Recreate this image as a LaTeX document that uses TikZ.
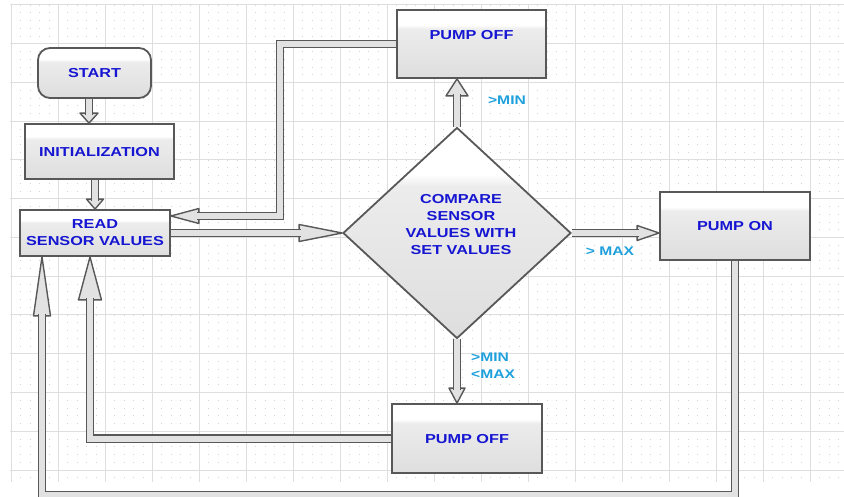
\documentclass[tikz,border=0pt]{standalone}
\usepackage{fontspec}
\setmainfont{Liberation Sans}
\newfontfamily\chartfont[FakeStretch=1.25]{Liberation Sans}
\usetikzlibrary{shapes.geometric, calc}

\definecolor{edgegray}{RGB}{88,88,88}
\definecolor{pipegray}{RGB}{226,226,226}
\definecolor{boxbot}{RGB}{222,222,222}
\definecolor{boxmid}{RGB}{236,236,236}
\definecolor{gridgray}{RGB}{222,222,222}
\definecolor{dotgray}{RGB}{212,212,212}
\definecolor{txtblue}{RGB}{22,22,210}
\definecolor{condblue}{RGB}{30,160,220}

% white band on top, light gray below
\pgfdeclareverticalshading{gloss}{100bp}{color(0bp)=(boxbot); color(25bp)=(boxbot);
  color(61bp)=(boxmid); color(64bp)=(white); color(75bp)=(white); color(100bp)=(white)}

\tikzset{
  pics/head/.style 2 args={code={
    \filldraw[draw=edgegray, fill=pipegray, line width=1.4pt, line join=round]
      (0,0) -- (-#1,-#2/2) -- (-#1,#2/2) -- cycle;}},
}

\begin{document}
\begin{tikzpicture}[x=1pt, y=-1pt,
    boxtext/.style={font=\chartfont\bfseries\fontsize{13}{17}\selectfont,
      text=txtblue, align=center, inner sep=0pt},
    box/.style={boxtext, draw=edgegray, line width=1.8pt, shading=gloss},
    oneline/.style={text height=9.3pt, text depth=#1},
    oneline/.default=0pt,
    cond/.style={font=\chartfont\bfseries\fontsize{12.5}{17}\selectfont,
      text=condblue, align=left, inner sep=0pt},
    pipe/.style={draw=edgegray, line width=1.4pt, double=pipegray, double distance=6pt},
    flow/.style={pipe, shorten >=#1},
  ]
  \useasboundingbox (0,0) rectangle (844,497);
  \clip (0,0) rectangle (844,497);

  % grid
  \foreach \j in {0,...,61}
    \draw[dotgray, line width=0.8pt, dash pattern=on 0.8pt off 8.6pt]
      (11,5+\j*7.75) -- (844,5+\j*7.75);
  \foreach \i in {0,...,17}
    \draw[gridgray, line width=1pt] (11+\i*47,5) -- (11+\i*47,482);
  \foreach \j in {0,...,12}
    \draw[gridgray, line width=1pt] (10,5+\j*38.75) -- (844,5+\j*38.75);

  % boxes
  \node[box, oneline, rounded corners=12pt, minimum width=113, minimum height=50]
    (start) at (94.5,73) {START};
  \node[box, oneline, minimum width=149, minimum height=55]
    (init) at (99.5,151.5) {INITIALIZATION};
  \node[box, minimum width=150, minimum height=46]
    (read) at (95,233) {READ\\SENSOR VALUES};
  \node[box, diamond, minimum width=228, minimum height=211] (cmp) at (457,233) {};
  \node[boxtext] (cmptxt) at (461,224.5) {COMPARE\\SENSOR\\VALUES WITH\\SET VALUES};
  \node[box, oneline=18pt, minimum width=149, minimum height=68]
    (pofftop) at (471.5,44) {PUMP OFF};
  \node[box, oneline, minimum width=150, minimum height=68]
    (pon) at (735,226) {PUMP ON};
  \node[box, oneline, minimum width=150, minimum height=69]
    (poffbot) at (467,438.5) {PUMP OFF};

  % start -> init -> read
  \coordinate (startdrop) at (89,0);
  \pic[rotate=-90] at (init.north -| startdrop) {head={10}{18}};
  \draw[flow=8] (start.south -| startdrop) -- (init.north -| startdrop);
  \pic[rotate=-90] at (read.north) {head={10}{17}};
  \draw[flow=8] (read.north |- init.south) -- (read.north);

  % pump off (top) back to read
  \coordinate (backtop) at (280,216);
  \pic[rotate=180] at (read.east |- backtop) {head={28}{15}};
  \draw[flow=26] (pofftop.west) -- (pofftop.west -| backtop) -- (backtop)
    -- (read.east |- backtop);

  % read -> compare
  \pic at (cmp.west) {head={43}{17}};
  \draw[flow=41] (read.east) -- (cmp.west);

  % compare -> pumps
  \pic[rotate=90] at (cmp.north |- pofftop.south) {head={17}{22}};
  \draw[flow=15] (cmp.north) -- (cmp.north |- pofftop.south);
  \pic at (cmp.east -| pon.west) {head={22}{15}};
  \draw[flow=20] (cmp.east) -- (cmp.east -| pon.west);
  \pic[rotate=-90] at (cmp.south |- poffbot.north) {head={15}{16}};
  \draw[flow=13] (cmp.south) -- (cmp.south |- poffbot.north);

  % pump off (bottom) back to read
  \coordinate (leftrise) at (90,0);
  \pic[rotate=90] at (read.south -| leftrise) {head={43}{23}};
  \draw[flow=41] (poffbot.west) -- (poffbot.west -| leftrise) -- (read.south -| leftrise);

  % pump on back to read
  \coordinate (floor) at (42,495);
  \pic[rotate=90] at (read.south -| floor) {head={59}{17}};
  \draw[flow=57] (pon.south) -- (pon.south |- floor) -- (floor) -- (read.south -| floor);

  % conditions
  \node[cond] (gtmin) at (507,100) {>MIN};
  \node[cond] (gtmax) at (610,251) {> MAX};
  \node[cond, anchor=west] (midrange) at (471,365.5) {>MIN\\<MAX};
\end{tikzpicture}
\end{document}
